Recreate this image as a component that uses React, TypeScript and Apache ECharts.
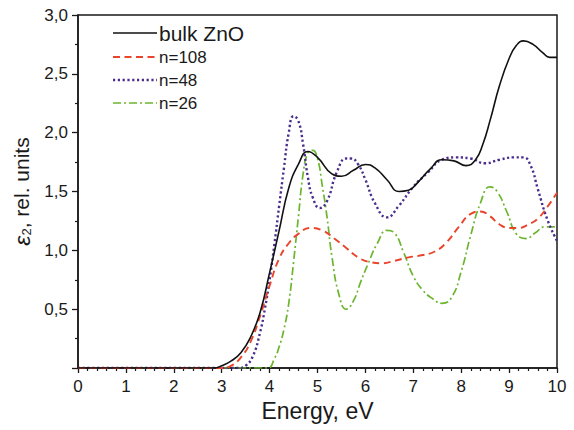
import React, { useEffect, useRef } from "react";
import * as echarts from "echarts";

const bulkE = [0, 2.85, 3.0, 3.2, 3.4, 3.6, 3.8, 4.0, 4.2, 4.4, 4.6, 4.8, 5.0, 5.3, 5.5, 5.75, 6.0, 6.2, 6.45, 6.7, 6.9, 7.1, 7.35, 7.6, 7.85, 8.1, 8.3, 8.45, 8.6, 8.8, 9.0, 9.15, 9.3, 9.5, 9.7, 9.85, 10];
const bulkV = [0, 0, 0.02, 0.06, 0.13, 0.26, 0.47, 0.81, 1.17, 1.53, 1.73, 1.84, 1.79, 1.65, 1.63, 1.68, 1.73, 1.70, 1.60, 1.50, 1.51, 1.58, 1.69, 1.77, 1.76, 1.72, 1.77, 1.90, 2.10, 2.40, 2.63, 2.74, 2.78, 2.75, 2.68, 2.64, 2.64];

const n108E = [0, 3.0, 3.2, 3.4, 3.6, 3.8, 4.0, 4.2, 4.4, 4.6, 4.85, 5.1, 5.35, 5.6, 5.85, 6.1, 6.35, 6.6, 6.9, 7.2, 7.45, 7.7, 7.95, 8.2, 8.4, 8.6, 8.8, 9.0, 9.2, 9.4, 9.6, 9.8, 10];
const n108V = [0, 0, 0.02, 0.09, 0.22, 0.44, 0.70, 0.93, 1.06, 1.14, 1.19, 1.17, 1.10, 1.02, 0.94, 0.90, 0.89, 0.91, 0.94, 0.96, 0.99, 1.07, 1.20, 1.31, 1.33, 1.29, 1.22, 1.19, 1.19, 1.22, 1.27, 1.37, 1.49];

const n48E = [0, 3.35, 3.5, 3.65, 3.8, 3.9, 4.0, 4.1, 4.2, 4.3, 4.4, 4.5, 4.6, 4.7, 4.8, 4.9, 5.05, 5.2, 5.4, 5.6, 5.7, 5.85, 6.0, 6.2, 6.45, 6.7, 7.0, 7.3, 7.6, 7.9, 8.2, 8.5, 8.8, 9.1, 9.3, 9.45, 9.6, 9.8, 10];
const n48V = [0, 0, 0.02, 0.10, 0.30, 0.50, 0.75, 1.05, 1.38, 1.70, 2.00, 2.14, 2.10, 1.90, 1.62, 1.45, 1.36, 1.42, 1.66, 1.78, 1.78, 1.73, 1.60, 1.40, 1.28, 1.38, 1.54, 1.66, 1.77, 1.79, 1.78, 1.74, 1.77, 1.79, 1.79, 1.72, 1.52, 1.26, 1.08];

const n26E = [0, 3.95, 4.1, 4.2, 4.3, 4.4, 4.5, 4.6, 4.7, 4.8, 4.9, 5.0, 5.1, 5.2, 5.3, 5.45, 5.6, 5.75, 5.9, 6.05, 6.25, 6.45, 6.6, 6.8, 7.0, 7.2, 7.4, 7.6, 7.8, 8.0, 8.2, 8.4, 8.6, 8.75, 8.95, 9.15, 9.35, 9.55, 9.75, 10];
const n26V = [0, 0, 0.08, 0.18, 0.33, 0.55, 0.90, 1.28, 1.65, 1.83, 1.85, 1.78, 1.55, 1.28, 0.95, 0.62, 0.50, 0.57, 0.73, 0.88, 1.06, 1.17, 1.15, 0.98, 0.78, 0.66, 0.59, 0.55, 0.60, 0.82, 1.13, 1.40, 1.54, 1.50, 1.33, 1.14, 1.10, 1.15, 1.20, 1.20];

const seriesNames = ["bulk ZnO", "n=108", "n=48", "n=26"];
const seriesColors = ["#111111", "#e8452c", "#4a2d8c", "#6cb52f"];
const seriesDash: (string | number[])[] = ["solid", [7, 4.5], [2.2, 2.6], [8, 3, 2, 3]];
const seriesWidth = [1.6, 1.9, 2.4, 1.7];
const seriesE = [bulkE, n108E, n48E, n26E];
const seriesV = [bulkV, n108V, n48V, n26V];

const FONT = "Liberation Sans, Arial, sans-serif";

export default function App() {
  const ref = useRef<HTMLDivElement>(null);
  useEffect(() => {
    document.body.style.margin = "0";
    if (!ref.current) return;
    const chart = echarts.init(ref.current, null, { renderer: "svg" });
    const legendY = [33, 57, 80, 103];
    const legendFont = [21, 17, 17, 17];
    const legendGraphics = seriesNames.map((name, i) => ({
      type: "group",
      children: [
        {
          type: "line",
          shape: { x1: 113, y1: legendY[i], x2: 157, y2: legendY[i] },
          style: {
            stroke: seriesColors[i],
            lineWidth: seriesWidth[i],
            lineDash: seriesDash[i] === "solid" ? null : (seriesDash[i] as number[]),
          },
        },
        {
          type: "text",
          x: 159,
          y: legendY[i],
          style: {
            text: name,
            fill: "#1a1a1a",
            font: `${legendFont[i]}px ${FONT}`,
            verticalAlign: "middle",
            align: "left",
          },
        },
      ],
    }));

    chart.setOption({
      animation: false,
      backgroundColor: "#ffffff",
      grid: {
        left: 78,
        right: 17,
        top: 15,
        bottom: 62,
        show: true,
        borderColor: "#1a1a1a",
        borderWidth: 1.5,
        backgroundColor: "transparent",
      },
      xAxis: {
        type: "value",
        min: 0,
        max: 10,
        interval: 1,
        name: "Energy, eV",
        nameLocation: "middle",
        nameGap: 31,
        nameTextStyle: { fontFamily: FONT, fontSize: 23, color: "#1a1a1a" },
        axisLine: { show: true, lineStyle: { color: "#1a1a1a", width: 1.5 } },
        axisTick: { show: true, length: 5, lineStyle: { color: "#1a1a1a", width: 1.3 } },
        minorTick: { show: true, splitNumber: 5, length: 3, lineStyle: { color: "#1a1a1a", width: 1.2 } },
        splitLine: { show: false },
        axisLabel: { fontFamily: FONT, fontSize: 17, color: "#1a1a1a", margin: 10 },
      },
      yAxis: {
        type: "value",
        min: 0,
        max: 3,
        interval: 0.5,
        name: "{e|ε}{s|2}{n|, rel. units}",
        nameLocation: "middle",
        nameGap: 38,
        nameRotate: 90,
        nameTextStyle: {
          fontFamily: FONT,
          fontSize: 21,
          color: "#1a1a1a",
          rich: {
            e: { fontFamily: FONT, fontSize: 23, fontStyle: "italic", color: "#1a1a1a" },
            s: { fontFamily: FONT, fontSize: 13, color: "#1a1a1a", verticalAlign: "bottom", lineHeight: 14 },
            n: { fontFamily: FONT, fontSize: 21, color: "#1a1a1a" },
          },
        },
        axisLine: { show: true, lineStyle: { color: "#1a1a1a", width: 1.5 } },
        axisTick: { show: true, length: 6, lineStyle: { color: "#1a1a1a", width: 1.3 } },
        minorTick: { show: true, splitNumber: 2, length: 3, lineStyle: { color: "#1a1a1a", width: 1.2 } },
        splitLine: { show: false },
        axisLabel: {
          fontFamily: FONT,
          fontSize: 17,
          color: "#1a1a1a",
          margin: 10,
          formatter: (v: number) => (v === 0 ? "" : v.toFixed(1).replace(".", ",")),
        },
      },
      series: seriesNames.map((name, i) => ({
        type: "line",
        name,
        data: seriesE[i].map((e, j) => [e, seriesV[i][j]]),
        smooth: 0.5,
        showSymbol: false,
        symbol: "none",
        clip: true,
        lineStyle: { color: seriesColors[i], width: seriesWidth[i], type: seriesDash[i] },
        z: 10 - i,
      })),
      graphic: legendGraphics,
    });
    return () => chart.dispose();
  }, []);
  return <div ref={ref} style={{ width: 574, height: 430 }} />;
}
